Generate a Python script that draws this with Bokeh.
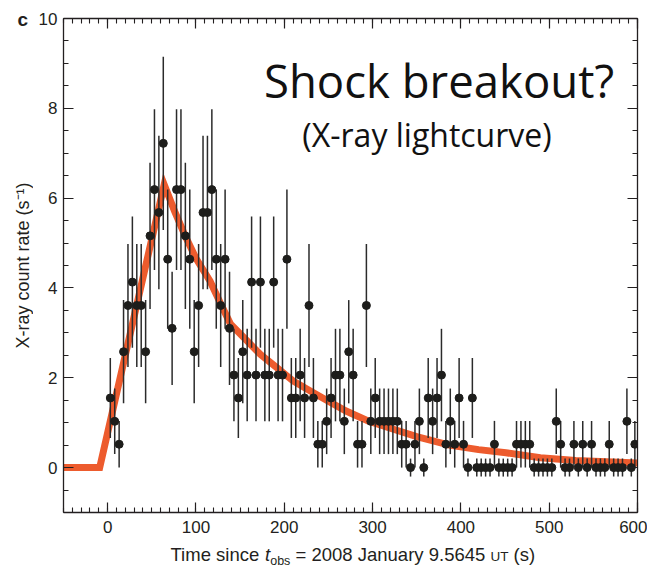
import math
from bokeh.plotting import figure
from bokeh.layouts import column, row
from bokeh.models import Range1d, LinearAxis, FixedTicker, ColumnDataSource, CustomJSTickFormatter
from bokeh.core.properties import value
from bokeh.embed import file_html
from bokeh.resources import INLINE

# ---- data ----
time_s = [3, 8, 13, 18, 23, 28, 33, 38, 43, 48,
          53, 58, 63, 68, 73, 78, 83, 88, 93, 98,
          103, 108, 113, 118, 123, 128, 133, 138, 143, 148,
          153, 158, 163, 168, 173, 178, 183, 188, 193, 198,
          203, 208, 213, 218, 223, 228, 233, 238, 243, 248,
          253, 258, 263, 268, 273, 278, 283, 288, 293, 298,
          303, 308, 313, 318, 323, 328, 333, 338, 343, 348,
          353, 358, 363, 368, 373, 378, 383, 388, 393, 398,
          403, 408, 413, 418, 423, 428, 433, 438, 443, 448,
          453, 458, 463, 468, 473, 478, 483, 488, 493, 498,
          503, 508, 513, 518, 523, 528, 533, 538, 543, 548,
          553, 558, 563, 568, 573, 578, 583, 588, 593, 597]

rate = [1.55, 1.03, 0.52, 2.58, 3.61, 4.13, 3.61, 3.61, 2.58, 5.16,
        6.19, 5.68, 7.22, 4.64, 3.10, 6.19, 6.19, 5.16, 4.64, 2.58,
        3.61, 5.68, 5.68, 6.19, 4.64, 3.61, 4.64, 3.10, 2.06, 1.55,
        2.58, 2.06, 4.13, 2.06, 4.13, 2.06, 2.06, 4.13, 2.06, 2.06,
        4.64, 1.55, 1.55, 2.06, 1.55, 3.61, 1.55, 0.52, 0.52, 1.03,
        1.55, 2.06, 2.06, 1.03, 2.58, 2.06, 0.52, 0.52, 3.61, 1.03,
        1.55, 1.03, 1.03, 1.03, 1.03, 1.03, 0.52, 0.52, 0.0, 0.52,
        1.03, 0.0, 1.55, 1.03, 1.55, 2.06, 0.52, 1.03, 0.52, 1.55,
        0.52, 0.0, 1.55, 0.0, 0.0, 0.0, 0.0, 0.52, 0.0, 0.0,
        0.0, 0.0, 0.52, 0.52, 0.52, 0.52, 0.0, 0.0, 0.0, 0.0,
        0.0, 1.03, 0.52, 0.0, 0.0, 0.52, 0.0, 0.52, 0.0, 0.52,
        0.0, 0.0, 0.0, 0.52, 0.0, 0.0, 0.0, 1.03, 0.0, 0.52]

rate_err = [0.89, 0.73, 0.52, 1.15, 1.37, 1.46, 1.37, 1.37, 1.15, 1.63,
            1.79, 1.71, 1.93, 1.55, 1.26, 1.79, 1.79, 1.63, 1.55, 1.15,
            1.37, 1.71, 1.71, 1.79, 1.55, 1.37, 1.55, 1.26, 1.03, 0.89,
            1.15, 1.03, 1.46, 1.03, 1.46, 1.03, 1.03, 1.46, 1.03, 1.03,
            1.55, 0.89, 0.89, 1.03, 0.89, 1.37, 0.89, 0.52, 0.52, 0.73,
            0.89, 1.03, 1.03, 0.73, 1.15, 1.03, 0.52, 0.52, 1.37, 0.73,
            0.89, 0.73, 0.73, 0.73, 0.73, 0.73, 0.52, 0.52, 0.20, 0.52,
            0.73, 0.20, 0.89, 0.73, 0.89, 1.03, 0.52, 0.73, 0.52, 0.89,
            0.52, 0.20, 0.89, 0.20, 0.20, 0.20, 0.20, 0.52, 0.20, 0.20,
            0.20, 0.20, 0.52, 0.52, 0.52, 0.52, 0.20, 0.20, 0.20, 0.20,
            0.20, 0.73, 0.52, 0.20, 0.20, 0.52, 0.20, 0.52, 0.20, 0.52,
            0.20, 0.20, 0.20, 0.52, 0.20, 0.20, 0.20, 0.73, 0.20, 0.52]

model_t = [-50, -9, 64, 76, 88, 100, 116, 128, 139, 155, 173, 190, 210, 230,
           248, 270, 295, 321, 350, 387, 420, 451, 490, 530, 565, 600]
model_rate = [0, 0, 6.3, 5.7, 5.15, 4.66, 4.15, 3.65, 3.2, 2.88, 2.52, 2.25, 1.93, 1.7,
              1.5, 1.26, 1.04, 0.87, 0.69, 0.5, 0.4, 0.33, 0.22, 0.16, 0.13, 0.1]

x_ticks = [0, 100, 200, 300, 400, 500, 600]
y_ticks = [0, 2, 4, 6, 8, 10]

# ---- page geometry (pixels of the 647x567 page) ----
PAGE_W, PAGE_H = 647, 567
STRIP_L = 33          # left strip: panel letter + y-axis title
STRIP_B = 27          # bottom strip: x-axis title
MAIN_W = PAGE_W - STRIP_L
MAIN_H = PAGE_H - STRIP_B
FL, FR, FT, FB = 63, 637, 18, 512   # frame edges on the page
X0, X1, Y0, Y1 = -50, 600, -1, 10
INK = "#231f20"
BASE_SHIFT = 0.39     # text glyphs sit this many em lower than the given y


def blank_fig(w, h):
    f = figure(width=w, height=h, output_backend="svg", toolbar_location=None,
               x_range=Range1d(0, w), y_range=Range1d(0, h),
               x_axis_location=None, y_axis_location=None,
               min_border_left=0, min_border_right=0, min_border_top=0, min_border_bottom=0)
    f.frame_align = False
    f.outline_line_color = None
    f.xgrid.visible = False
    f.ygrid.visible = False
    f.background_fill_color = "white"
    f.border_fill_color = "white"
    return f


p = figure(width=MAIN_W, height=MAIN_H, output_backend="svg", toolbar_location=None,
           x_range=Range1d(X0, X1), y_range=Range1d(Y0, Y1),
           min_border_left=FL - STRIP_L, min_border_right=PAGE_W - FR,
           min_border_top=FT, min_border_bottom=MAIN_H - FB)
p.outline_line_color = None
p.xgrid.visible = False
p.ygrid.visible = False
p.background_fill_color = "white"
p.border_fill_color = "white"

x_minor = [X0 + 10 * i for i in range(66)]
y_minor = [Y0 + 0.5 * i for i in range(23)]


def style(ax, ticks, minor, labels=True):
    ax.ticker = FixedTicker(ticks=ticks, minor_ticks=minor)
    ax.major_tick_in = 10
    ax.major_tick_out = 0
    ax.minor_tick_in = 5
    ax.minor_tick_out = 0
    ax.axis_line_color = INK
    ax.axis_line_width = 1.3
    ax.major_tick_line_color = INK
    ax.major_tick_line_width = 1.2
    ax.minor_tick_line_color = INK
    ax.minor_tick_line_width = 1.1
    ax.major_label_text_font = "Liberation Sans"
    ax.major_label_text_font_size = "17px"
    ax.major_label_text_color = INK
    if not labels:
        ax.formatter = CustomJSTickFormatter(code="return ''")
        ax.major_label_text_font_size = "1px"
        ax.major_label_standoff = 0


xb = p.xaxis[0]
style(xb, x_ticks, x_minor)
xb.major_label_standoff = 8
xb.axis_label = None

yl = p.yaxis[0]
style(yl, y_ticks, y_minor)
yl.major_label_standoff = 6
yl.axis_label = None

xt = LinearAxis()
style(xt, x_ticks, x_minor, labels=False)
p.add_layout(xt, "above")
yr = LinearAxis()
style(yr, y_ticks, y_minor, labels=False)
p.add_layout(yr, "right")

# model curve
p.line(model_t, model_rate, line_color="#ED5B2D", line_width=7, line_join="miter")

# data with error bars
src = ColumnDataSource(dict(
    t=time_s, r=rate,
    lo=[r - e for r, e in zip(rate, rate_err)],
    hi=[r + e for r, e in zip(rate, rate_err)],
))
p.segment(x0="t", y0="lo", x1="t", y1="hi", source=src, line_color="#2b2b2b", line_width=1.5)
p.scatter(x="t", y="r", source=src, size=8, fill_color="#1d1d1b", line_color="#1d1d1b")


def px_x(px):
    return X0 + (px - FL) / (FR - FL) * (X1 - X0)


def px_y(py):
    return Y1 - (py - FT) / (FB - FT) * (Y1 - Y0)


def main_text(txt, cx, base, size):
    p.text(x=[px_x(cx)], y=[px_y(base - BASE_SHIFT * size)], text=[txt],
           text_font=value("Open Sans"), text_font_size=value(f"{size}px"),
           text_color="#111111", text_align="center", text_baseline="alphabetic")


main_text("Shock breakout?", 438.5, 97, 45.5)
main_text("(X-ray lightcurve)", 426.5, 146.5, 32)

# ---- left strip: panel letter and y-axis title ----
ls = blank_fig(STRIP_L, MAIN_H)
ls.text(x=[17], y=[MAIN_H - (26 - BASE_SHIFT * 19)], text=["c"],
        text_font=value("Liberation Sans"), text_font_size=value("19px"),
        text_font_style="bold", text_color=INK, text_align="left", text_baseline="alphabetic")
ls.text(x=[22], y=[MAIN_H - 265], text=["X-ray count rate (s\u207b\u00b9)"], angle=math.pi / 2,
        text_font=value("Liberation Sans"), text_font_size=value("18px"),
        text_color=INK, text_align="center", text_baseline="middle")

# ---- bottom strip: x-axis title (page y from STRIP top at MAIN_H) ----
bs = blank_fig(PAGE_W, STRIP_B)
F = 18.5 / 1000
SUB = 12.5 / 1000
UTF = 13.5 / 1000
base = 561
x = 170.0
pieces = []
pieces.append(("Time since", x, base, 18.5, "normal"))
x += 5112 * F
pieces.append(("t", x, base, 18.5, "italic"))
x += 278 * F
pieces.append(("obs", x, base + 4, 12.5, "normal"))
x += 1612 * SUB + 278 * F
pieces.append(("= 2008 January 9.5645", x, base, 18.5, "normal"))
x += 10257 * F + 278 * F
pieces.append(("UT", x, base, 13.5, "normal"))
x += 1333 * UTF + 278 * F
pieces.append(("(s)", x, base, 18.5, "normal"))

for txt, xx, yy, fsz, st in pieces:
    bs.text(x=[xx], y=[PAGE_H - (yy - BASE_SHIFT * fsz)], text=[txt],
            text_font=value("Liberation Sans"), text_font_size=value(f"{fsz}px"),
            text_font_style=st, text_color=INK, text_align="left", text_baseline="alphabetic")

layout = column(row(ls, p, spacing=0), bs, spacing=0)
open("out.html", "w").write(file_html(layout, INLINE))
